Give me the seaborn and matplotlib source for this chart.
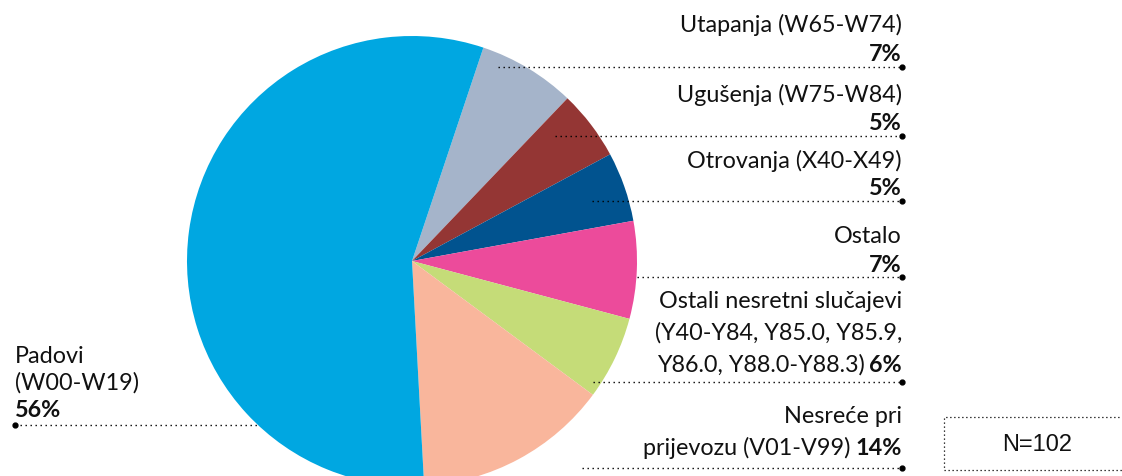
import matplotlib
matplotlib.use("Agg")
import matplotlib.pyplot as plt
import seaborn as sns

# data
categories = ["Utapanja (W65-W74)", "Ugušenja (W75-W84)", "Otrovanja (X40-X49)", "Ostalo",
              "Ostali nesretni slučajevi", "Nesreće pri prijevozu (V01-V99)", "Padovi (W00-W19)"]
shares = [7, 5, 5, 7, 6, 14, 56]
colors = ["#A5B4CA", "#943634", "#01538F", "#EC4B9B", "#C5DC78", "#F9B69C", "#00A7E1"]
n_total = 102

# how each label is broken into lines ("" = percentage on its own line)
label_lines = [
    ["Utapanja (W65-W74)", ""],
    ["Ugušenja (W75-W84)", ""],
    ["Otrovanja (X40-X49)", ""],
    ["Ostalo", ""],
    ["Ostali nesretni slučajevi", "(Y40-Y84, Y85.0, Y85.9,", "Y86.0, Y88.0-Y88.3)"],
    ["Nesreće pri", "prijevozu (V01-V99)"],
    ["Padovi", "(W00-W19)", ""],
]

# layout (pixels from top-left)
W, H = 1122, 477
cx, cy, r = 412, 262, 225
baselines = [[32, 61], [102, 130], [168, 195], [243, 272],
             [308, 340, 372], [423, 455], [363, 390, 417]]
leader_y = [68, 137, 202, 278, 383, 469, 426]
leader_x0 = [498, 555, 592, 637, 593, 582, 260]
text_right = 902
fs = 16.8

sns.set_theme(style="white")
plt.rcParams["font.family"] = ["Lato", "DejaVu Sans"]

fig = plt.figure(figsize=(W / 100, H / 100), dpi=100)
ax = fig.add_axes([0, 0, 1, 1])

ax.pie(shares, colors=colors, startangle=-71.5, counterclock=True,
       center=(cx, cy), radius=r, wedgeprops=dict(linewidth=0))
ax.set_xlim(0, W)
ax.set_ylim(H, 0)
ax.set_aspect("auto")
ax.axis("off")

fig.canvas.draw()
renderer = fig.canvas.get_renderer()

dot_style = dict(color="black", lw=1.0, linestyle=(0, (1, 2.6)))
txt_color = "#111111"

for i, lines in enumerate(label_lines):
    pct = f"{shares[i]}%"
    ys = baselines[i]
    if i == len(label_lines) - 1:
        # Padovi: left aligned on the left side
        for txt, y in zip(lines, ys):
            if txt:
                ax.text(15, y, txt, ha="left", va="baseline", fontsize=fs, color=txt_color)
            else:
                ax.text(15, y, pct, ha="left", va="baseline", fontsize=fs,
                        fontweight="bold", color=txt_color)
        ax.plot([15, leader_x0[i]], [leader_y[i]] * 2, **dot_style)
        ax.plot([15], [leader_y[i]], "o", ms=3.5, color="black")
        continue
    for j, (txt, y) in enumerate(zip(lines, ys)):
        last = j == len(lines) - 1
        if last:
            tb = ax.text(text_right, y, pct, ha="right", va="baseline", fontsize=fs,
                         fontweight="bold", color=txt_color)
            if txt:
                w = tb.get_window_extent(renderer).width
                ax.text(text_right - w - 5, y, txt, ha="right", va="baseline",
                        fontsize=fs, color=txt_color)
        else:
            ax.text(text_right, y, txt, ha="right", va="baseline", fontsize=fs, color=txt_color)
    ax.plot([leader_x0[i], text_right], [leader_y[i]] * 2, **dot_style)
    ax.plot([text_right], [leader_y[i]], "o", ms=3.5, color="black")

# N box
box_style = dict(color="black", lw=0.9, linestyle=(0, (1, 2.2)))
ax.plot([W + 5, 944, 944, W + 5], [418, 418, 471, 471], **box_style)
ax.text(1037, 445, f"N={n_total}", ha="center", va="center", fontsize=17,
        family=["Liberation Sans", "DejaVu Sans"], color=txt_color)

fig.savefig("out.png", dpi=100)
